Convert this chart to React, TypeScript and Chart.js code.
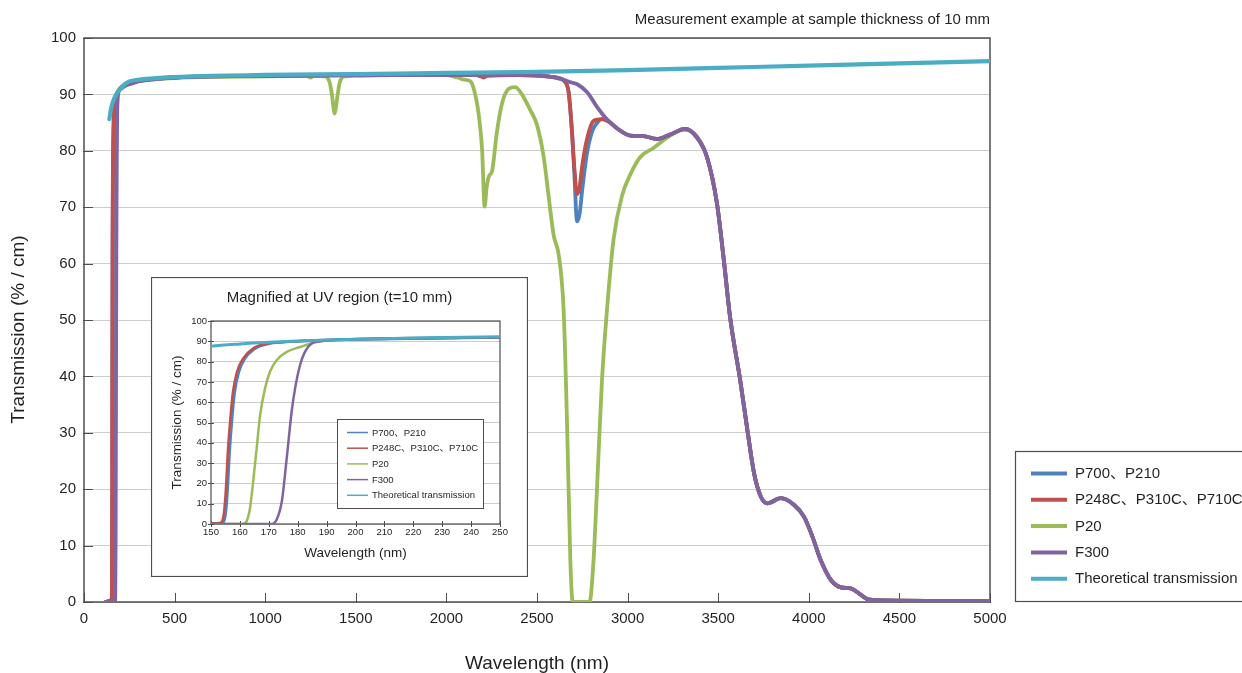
import React, { useEffect, useRef } from "react";
import { Chart, registerables } from "chart.js";

Chart.register(...registerables);

const FONT = "'Liberation Sans', Arial, Helvetica, 'Noto Sans CJK JP', sans-serif";
Chart.defaults.font.family = FONT;

// ---------- data ----------
const seriesLabels = ["P700、P210", "P248C、P310C、P710C", "P20", "F300", "Theoretical transmission"];
const seriesColors = ["#4f81bd", "#c0504d", "#9bbb59", "#8064a2", "#4bacc6"];
const seriesOrder = [3, 2, 4, 1, 0];

const mainXTicks = [0, 500, 1000, 1500, 2000, 2500, 3000, 3500, 4000, 4500, 5000];
const mainYTicks = [0, 10, 20, 30, 40, 50, 60, 70, 80, 90, 100];
const insetXTicks = [150, 160, 170, 180, 190, 200, 210, 220, 230, 240, 250];
const insetYTicks = [0, 10, 20, 30, 40, 50, 60, 70, 80, 90, 100];

// shared long-wavelength tail (all grades)
const tailPoints: [number, number][] = [
  [2941, 84.0], [3015, 82.7], [3088, 82.6], [3162, 82.1], [3235, 82.9], [3318, 83.9],
  [3382, 82.4], [3438, 78.9], [3493, 70.7], [3529, 61.2], [3566, 50.4], [3622, 39.2],
  [3661, 30.5], [3698, 22.8], [3735, 18.7], [3772, 17.5], [3845, 18.4], [3919, 17.2],
  [3974, 15.1], [4020, 11.6], [4066, 7.4], [4122, 3.9], [4177, 2.6], [4232, 2.4],
  [4278, 1.5], [4324, 0.5], [4400, 0.3], [5000, 0.2],
];

const p700Points: [number, number][] = [
  [120, 0], [150, 0.3], [153.8, 0.5], [155.0, 4], [155.7, 15], [156.5, 36], [157.4, 53],
  [158.2, 64.5], [159.6, 74.5], [161.7, 81.3], [165.1, 86.2], [169.8, 88.7], [175, 89.5],
  [187, 90.4], [200, 90.9], [250, 91.9], [300, 92.4], [400, 92.8], [500, 93.0], [700, 93.2],
  [1000, 93.3], [1500, 93.4], [2000, 93.45], [2400, 93.4], [2550, 93.2], [2620, 92.9],
  [2650, 92.4], [2675, 90.3], [2693, 83.4], [2706, 76], [2721, 67.5], [2736, 69],
  [2748, 72.6], [2776, 79.6], [2805, 83.5], [2831, 84.9], [2858, 85.6], [2904, 85.0],
];

const p248Points: [number, number][] = [
  [120, 0], [150, 0.3], [153.2, 0.5], [154.4, 4.6], [155.1, 16], [155.9, 37.3], [156.8, 53.7],
  [157.6, 65.1], [159.0, 75], [161.1, 81.5], [164.5, 86.4], [169.2, 88.9], [175, 89.7],
  [187, 90.5], [200, 91.0], [250, 92.0], [300, 92.4], [400, 92.8], [500, 93.0], [700, 93.2],
  [1000, 93.3], [1500, 93.4], [2000, 93.45], [2150, 93.45], [2190, 93.2], [2205, 93.0],
  [2225, 93.3], [2400, 93.4], [2550, 93.2], [2620, 92.9], [2650, 92.4], [2675, 90.3],
  [2693, 83.4], [2706, 77], [2721, 72.3], [2735, 73.5], [2748, 77], [2776, 82.1],
  [2812, 85.3], [2858, 85.6], [2904, 85.0],
];

const p20Points: [number, number][] = [
  [120, 0], [161, 0], [162.3, 1.3], [163.5, 7.9], [164.6, 21], [165.8, 37.3], [167, 53.7],
  [168.7, 66.8], [170.4, 75], [172.7, 80.7], [176.2, 84.8], [180.8, 87.2], [186.6, 89.7],
  [198.1, 91], [250, 91.8], [300, 92.3], [400, 92.7], [500, 92.9], [700, 93.1], [1000, 93.2],
  [1230, 93.3], [1250, 93.0], [1270, 93.3], [1330, 93.2], [1355, 92.2], [1368, 90],
  [1377, 87.6], [1383, 86.6], [1390, 87.6], [1400, 90], [1412, 92.2], [1440, 93.2],
  [1500, 93.3], [1700, 93.4], [2000, 93.4], [2060, 93.0], [2100, 92.6], [2130, 92.4],
  [2151, 91], [2178, 86.5], [2197, 80.2], [2211, 70.1], [2222, 73.5], [2235, 75.5],
  [2252, 76.4], [2279, 83.4], [2307, 88.4], [2344, 91], [2380, 91.3], [2417, 90],
  [2463, 87.2], [2500, 84.6], [2537, 78.9], [2564, 72], [2592, 65], [2620, 61.5],
  [2647, 51.7], [2665, 32.7], [2684, 7.4], [2697, 0], [2790, 0], [2812, 7.4], [2831, 20],
  [2858, 39], [2886, 51.7], [2923, 64.4], [2969, 72], [3015, 75.8], [3070, 78.9],
  [3143, 80.5], [3235, 82.7], [3309, 83.7], [3382, 82.6],
];

const f300Points: [number, number][] = [
  [120, 0], [171, 0], [172.7, 2.1], [174.5, 11.1], [175.6, 24.2], [176.8, 40.6], [177.9, 55.3],
  [179.1, 66.8], [180.8, 78.2], [182.5, 84.8], [184.8, 88.9], [187.7, 90], [198.1, 91],
  [250, 91.8], [300, 92.3], [400, 92.7], [500, 93.0], [700, 93.2], [1000, 93.3], [1500, 93.4],
  [2000, 93.45], [2463, 93.5], [2560, 93.2], [2611, 92.9], [2648, 92.6], [2680, 92.2],
  [2722, 91.8], [2777, 90.4], [2831, 87.8], [2886, 85.6],
];

const theoreticalPoints: [number, number][] = [
  [140, 85.6], [150, 87.6], [160, 88.7], [170, 89.5], [180, 90.1], [190, 90.6], [200, 91.0],
  [225, 91.8], [250, 92.3], [300, 92.6], [400, 92.9], [600, 93.2], [1000, 93.45], [1500, 93.6],
  [2000, 93.8], [2500, 94.0], [3000, 94.3], [3500, 94.7], [4000, 95.1], [4500, 95.5], [5000, 95.9],
];

const seriesPoints: [number, number][][] = [
  [...p700Points, ...tailPoints],
  [...p248Points, ...tailPoints],
  [...p20Points, ...tailPoints.filter((p) => p[0] > 3400)],
  [...f300Points, ...tailPoints],
  theoreticalPoints,
];

const mainTitle = "Measurement example at sample thickness of 10 mm";
const insetTitle = "Magnified at UV region (t=10 mm)";
const xTitle = "Wavelength (nm)";
const yTitle = "Transmission (% / cm)";

// ---------- helpers ----------
const TEXT = "#231f20";
const FRAME = "#4d4d4d";

function buildData(widths: number[]) {
  return {
    datasets: seriesPoints.map((pts, i) => ({
      label: seriesLabels[i],
      data: pts.map(([x, y]) => ({ x, y })),
      borderColor: seriesColors[i],
      backgroundColor: seriesColors[i],
      borderWidth: widths[i],
      pointRadius: 0,
      pointHoverRadius: 0,
      fill: false,
      tension: 0.4,
      cubicInterpolationMode: "monotone" as const,
      borderJoinStyle: "round" as const,
      borderCapStyle: "round" as const,
      order: seriesOrder[i],
    })),
  };
}

type FrameCfg = {
  id: string;
  frameWidth: number;
  tickIn: number;
  tickOut: number;
  legend: { x: number; y: number; w: number; h: number; firstY: number; step: number; lineX0: number; lineX1: number; textX: number; font: number; lineW: number; boxW: number };
  background?: boolean;
  outerBorder?: boolean;
  title?: { text: string; x: number; y: number; font: number };
  yTitle?: { text: string; x: number; y: number; font: number };
};

function framePlugin(cfg: FrameCfg) {
  return {
    id: cfg.id,
    beforeDraw(chart: any) {
      if (!cfg.background) return;
      const { ctx, width, height } = chart;
      ctx.save();
      ctx.fillStyle = "#ffffff";
      ctx.fillRect(0, 0, width, height);
      ctx.restore();
    },
    beforeDatasetsDraw(chart: any) {
      const { ctx, chartArea: a, scales } = chart;
      ctx.save();
      ctx.strokeStyle = FRAME;
      ctx.lineWidth = cfg.frameWidth;
      ctx.strokeRect(a.left, a.top, a.right - a.left, a.bottom - a.top);
      ctx.lineWidth = 1;
      scales.x.ticks.forEach((t: any) => {
        const px = Math.round(scales.x.getPixelForValue(t.value)) + 0.5;
        ctx.beginPath();
        ctx.moveTo(px, a.bottom + cfg.tickOut);
        ctx.lineTo(px, a.bottom - cfg.tickIn);
        ctx.stroke();
      });
      scales.y.ticks.forEach((t: any) => {
        const py = Math.round(scales.y.getPixelForValue(t.value)) + 0.5;
        ctx.beginPath();
        ctx.moveTo(a.left - cfg.tickOut, py);
        ctx.lineTo(a.left + cfg.tickIn, py);
        ctx.stroke();
      });
      ctx.restore();
    },
    afterDraw(chart: any) {
      const { ctx, width, height } = chart;
      const L = cfg.legend;
      ctx.save();
      if (cfg.outerBorder) {
        ctx.strokeStyle = FRAME;
        ctx.lineWidth = 1.2;
        ctx.strokeRect(0.5, 0.5, width - 1, height - 1);
      }
      if (cfg.title) {
        ctx.fillStyle = TEXT;
        ctx.font = `${cfg.title.font}px ${FONT}`;
        ctx.textAlign = "center";
        ctx.textBaseline = "middle";
        ctx.fillText(cfg.title.text, cfg.title.x, cfg.title.y);
      }
      if (cfg.yTitle) {
        ctx.save();
        ctx.translate(cfg.yTitle.x, cfg.yTitle.y);
        ctx.rotate(-Math.PI / 2);
        ctx.fillStyle = TEXT;
        ctx.font = `${cfg.yTitle.font}px ${FONT}`;
        ctx.textAlign = "center";
        ctx.textBaseline = "middle";
        ctx.fillText(cfg.yTitle.text, 0, 0);
        ctx.restore();
      }
      ctx.strokeStyle = FRAME;
      ctx.lineWidth = L.boxW;
      ctx.fillStyle = "#ffffff";
      ctx.fillRect(L.x, L.y, L.w, L.h);
      ctx.strokeRect(L.x, L.y, L.w, L.h);
      chart.data.datasets.forEach((ds: any, i: number) => {
        const y = L.firstY + i * L.step;
        ctx.strokeStyle = ds.borderColor;
        ctx.lineWidth = L.lineW;
        ctx.beginPath();
        ctx.moveTo(L.lineX0, y);
        ctx.lineTo(L.lineX1, y);
        ctx.stroke();
        ctx.fillStyle = TEXT;
        ctx.font = `${L.font}px ${FONT}`;
        ctx.textAlign = "left";
        ctx.textBaseline = "middle";
        ctx.fillText(ds.label, L.textX, y + 0.5);
      });
      ctx.restore();
    },
  };
}

function axisOptions(o: {
  min: number; max: number; ticks: number[]; tickFont: number; tickPad: number;
  title: string; titleFont: number; titlePad: any; size: number; grid: boolean; vertical: boolean;
  showTitle: boolean; titleLH: number;
}) {
  return {
    type: "linear" as const,
    min: o.min,
    max: o.max,
    afterBuildTicks: (scale: any) => {
      scale.ticks = o.ticks.map((v) => ({ value: v }));
    },
    afterFit: (scale: any) => {
      if (o.vertical) scale.width = o.size;
      else scale.height = o.size;
    },
    ticks: {
      autoSkip: false,
      maxRotation: 0,
      minRotation: 0,
      padding: o.tickPad,
      color: TEXT,
      font: { size: o.tickFont, family: FONT },
      callback: (v: any) => String(v),
    },
    grid: {
      display: o.grid,
      drawTicks: false,
      color: "#cdcdcd",
      lineWidth: 1,
    },
    border: { display: false },
    title: {
      display: o.showTitle,
      text: o.title,
      color: TEXT,
      font: { size: o.titleFont, family: FONT, lineHeight: o.titleLH },
      padding: o.titlePad,
    },
  };
}

export default function App() {
  const mainRef = useRef<HTMLCanvasElement | null>(null);
  const insetRef = useRef<HTMLCanvasElement | null>(null);

  useEffect(() => {
    if (!mainRef.current || !insetRef.current) return;

    const mainChart = new Chart(mainRef.current, {
      type: "line",
      data: buildData([3.8, 3.8, 3.8, 3.8, 4.2]) as any,
      options: {
        responsive: false,
        animation: false,
        events: [],
        layout: { padding: { left: 0, right: 252, top: 0, bottom: 0 } },
        plugins: {
          legend: { display: false },
          tooltip: { enabled: false },
          title: {
            display: true,
            text: mainTitle,
            align: "end",
            color: TEXT,
            font: { size: 15, family: FONT, weight: "normal" },
            padding: { top: 11, bottom: 9 },
          },
        },
        scales: {
          x: axisOptions({
            min: 0, max: 5000, ticks: mainXTicks, tickFont: 15, tickPad: 8,
            title: xTitle, titleFont: 19, titlePad: { top: 0, bottom: 0 }, size: 71, grid: false, vertical: false,
            showTitle: true, titleLH: 1,
          }),
          y: axisOptions({
            min: 0, max: 100, ticks: mainYTicks, tickFont: 15, tickPad: 8,
            title: yTitle, titleFont: 19, titlePad: { top: 7, bottom: 0 }, size: 84, grid: true, vertical: true,
            showTitle: false, titleLH: 1.2,
          }),
        },
      } as any,
      plugins: [
        framePlugin({
          id: "mainFrame",
          frameWidth: 1.5,
          tickIn: 9,
          tickOut: 1,
          yTitle: { text: yTitle, x: 18.5, y: 329.5, font: 19 },
          legend: {
            x: 1015.5, y: 451.5, w: 260, h: 150, firstY: 473.5, step: 26.3,
            lineX0: 1031, lineX1: 1067, textX: 1075, font: 15, lineW: 4, boxW: 1.2,
          },
        }) as any,
      ],
    });

    const insetChart = new Chart(insetRef.current, {
      type: "line",
      data: buildData([2.5, 2.5, 2.5, 2.5, 3]) as any,
      options: {
        responsive: false,
        animation: false,
        events: [],
        layout: { padding: { left: 0, right: 28, top: 44, bottom: 0 } },
        plugins: {
          legend: { display: false },
          tooltip: { enabled: false },
          title: { display: false },
        },
        scales: {
          x: axisOptions({
            min: 150, max: 250, ticks: insetXTicks, tickFont: 9.5, tickPad: 3,
            title: xTitle, titleFont: 13.5, titlePad: { top: 0, bottom: 16 }, size: 53, grid: false, vertical: false,
            showTitle: true, titleLH: 1.2,
          }),
          y: axisOptions({
            min: 0, max: 100, ticks: insetYTicks, tickFont: 9.5, tickPad: 4,
            title: yTitle, titleFont: 13.5, titlePad: { top: 18, bottom: 0 }, size: 60, grid: true, vertical: true,
            showTitle: true, titleLH: 1.2,
          }),
        },
      } as any,
      plugins: [
        framePlugin({
          id: "insetFrame",
          frameWidth: 1.2,
          tickIn: 3,
          tickOut: 3,
          background: true,
          outerBorder: true,
          title: { text: insetTitle, x: 188.5, y: 21, font: 15 },
          legend: {
            x: 186.5, y: 142.5, w: 146, h: 89, firstY: 155.5, step: 15.7,
            lineX0: 196, lineX1: 217, textX: 221, font: 9.5, lineW: 1.5, boxW: 1,
          },
        }) as any,
      ],
    });

    return () => {
      mainChart.destroy();
      insetChart.destroy();
    };
  }, []);

  return (
    <div style={{ position: "fixed", left: 0, top: 0, width: 1242, height: 673, background: "#ffffff" }}>
      <canvas ref={mainRef} width={1242} height={673} style={{ position: "absolute", left: 0, top: 0 }} />
      <canvas ref={insetRef} width={377} height={300} style={{ position: "absolute", left: 151, top: 277 }} />
    </div>
  );
}
